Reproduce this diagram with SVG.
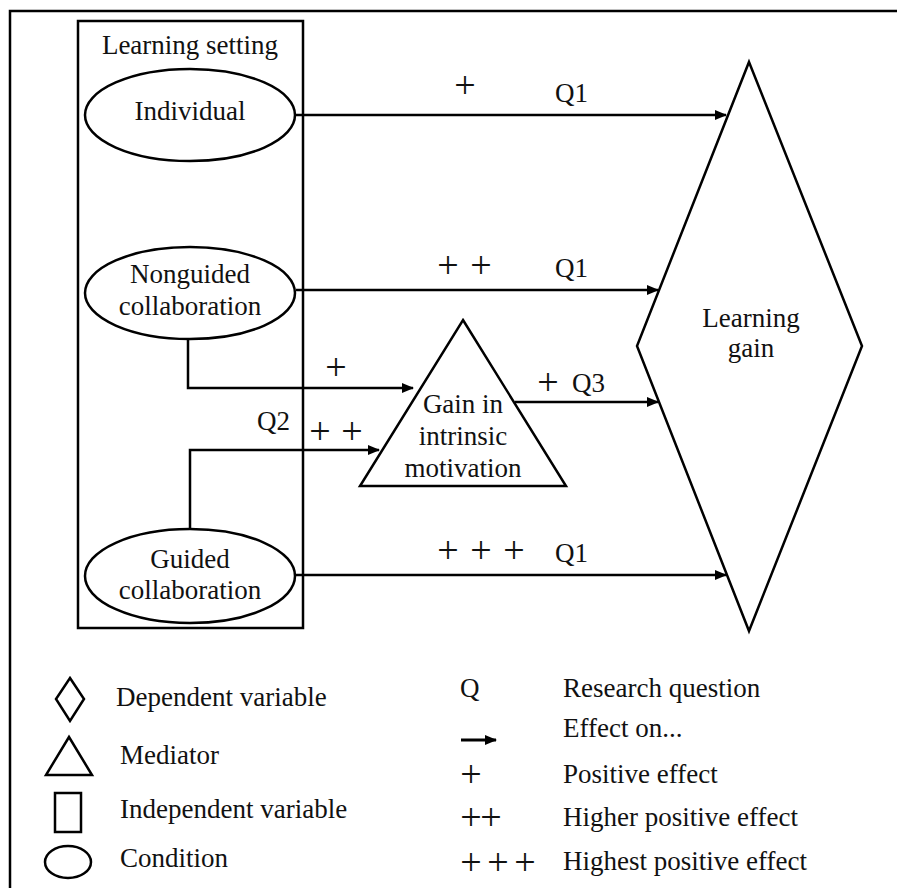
<svg xmlns="http://www.w3.org/2000/svg" width="897" height="888" viewBox="0 0 897 888">
<style>
  .s { fill: #fff; stroke: #000; stroke-width: 2.5; }
  .c { fill: none; stroke: #000; stroke-width: 2.5; }
  text { font-family: "Liberation Serif", "Times New Roman", serif; font-size: 27px; fill: #111; }
  .m { text-anchor: middle; }
  .p { font-size: 38px; text-anchor: middle; }
</style>
<defs>
  <marker id="ah" markerWidth="12" markerHeight="10" refX="11" refY="5" orient="auto" markerUnits="userSpaceOnUse">
    <path d="M0,0 L12,5 L0,10 Z" fill="#000"/>
  </marker>
</defs>
<rect width="897" height="888" fill="#fff"/>
<path d="M10,888 V11 H897" class="c"/>

<g id="setting">
  <rect x="78" y="21" width="225" height="607" class="c"/>
  <text class="m" x="190" y="54">Learning setting</text>
</g>
<g id="individual">
  <ellipse cx="190" cy="115" rx="105" ry="46" class="s"/>
  <text class="m" x="190" y="120">Individual</text>
</g>
<g id="nonguided">
  <ellipse cx="190" cy="293" rx="105" ry="46" class="s"/>
  <text class="m" x="190" y="283">Nonguided</text>
  <text class="m" x="190" y="315">collaboration</text>
</g>
<g id="guided">
  <ellipse cx="190" cy="576" rx="105" ry="47" class="s"/>
  <text class="m" x="190" y="568">Guided</text>
  <text class="m" x="190" y="599">collaboration</text>
</g>
<g id="motivation">
  <polygon points="463,320 566,486 360,486" class="s"/>
  <text class="m" x="463" y="413">Gain in</text>
  <text class="m" x="463" y="445">intrinsic</text>
  <text class="m" x="463" y="477">motivation</text>
</g>
<g id="learninggain">
  <polygon points="749,62 862,346 749,631 637,346" class="s"/>
  <text class="m" x="751" y="327">Learning</text>
  <text class="m" x="751" y="357">gain</text>
</g>

<g id="connectors">
  <line x1="296" y1="115" x2="726" y2="115" class="c" marker-end="url(#ah)"/>
  <line x1="296" y1="290" x2="658" y2="290" class="c" marker-end="url(#ah)"/>
  <polyline points="188,339 188,388 413,388" class="c" marker-end="url(#ah)"/>
  <polyline points="190,529 190,450 379,450" class="c" marker-end="url(#ah)"/>
  <line x1="515" y1="402" x2="658" y2="402" class="c" marker-end="url(#ah)"/>
  <line x1="296" y1="575" x2="726" y2="575" class="c" marker-end="url(#ah)"/>
</g>

<g id="labels">
  <text class="p" x="465" y="98">+</text>
  <text x="555" y="102">Q1</text>
  <text class="p" x="448" y="278">+</text>
  <text class="p" x="481" y="278">+</text>
  <text x="555" y="277">Q1</text>
  <text class="p" x="336" y="380">+</text>
  <text x="257" y="430">Q2</text>
  <text class="p" x="320" y="444">+</text>
  <text class="p" x="352" y="444">+</text>
  <text class="p" x="548" y="395">+</text>
  <text x="572" y="392">Q3</text>
  <text class="p" x="448" y="563">+</text>
  <text class="p" x="481" y="563">+</text>
  <text class="p" x="514" y="563">+</text>
  <text x="555" y="562">Q1</text>
</g>

<g id="legend">
  <polygon points="70,678 84,699 70,721 56,699" class="c"/>
  <text x="116" y="706">Dependent variable</text>
  <polygon points="69,737 92,775 46,775" class="c"/>
  <text x="120" y="764">Mediator</text>
  <rect x="55" y="793" width="26" height="39" class="c"/>
  <text x="120" y="818">Independent variable</text>
  <ellipse cx="68" cy="862" rx="23" ry="16" class="c"/>
  <text x="120" y="867">Condition</text>

  <text x="460" y="697">Q</text>
  <text x="563" y="697">Research question</text>
  <line x1="461" y1="740" x2="496" y2="740" stroke="#000" stroke-width="3" marker-end="url(#ah)"/>
  <text x="563" y="737">Effect on...</text>
  <text class="p" x="471" y="787">+</text>
  <text x="563" y="783">Positive effect</text>
  <text class="p" x="471" y="830">+</text>
  <text class="p" x="491" y="830">+</text>
  <text x="563" y="826">Higher positive effect</text>
  <text class="p" x="471" y="875">+</text>
  <text class="p" x="498" y="875">+</text>
  <text class="p" x="525" y="875">+</text>
  <text x="563" y="870">Highest positive effect</text>
</g>
</svg>
